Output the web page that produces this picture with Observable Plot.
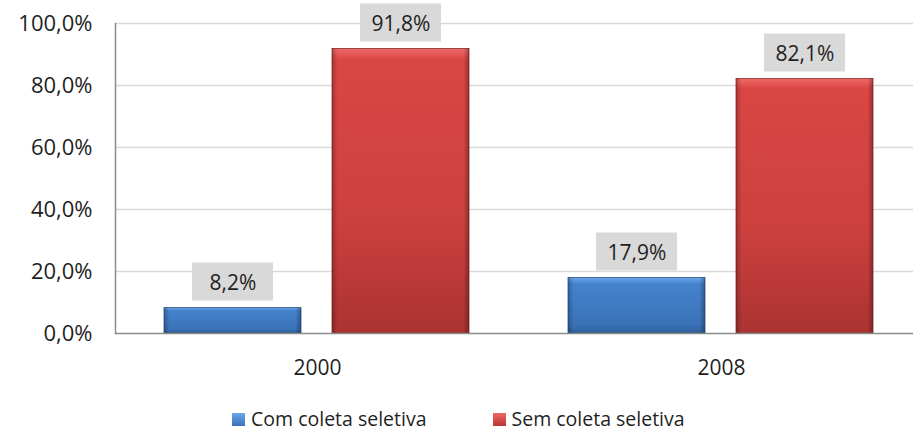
<!DOCTYPE html>
<html><head><meta charset="utf-8">
<script src="https://cdn.jsdelivr.net/npm/d3@7"></script>
<script src="https://cdn.jsdelivr.net/npm/@observablehq/plot@0.6"></script>
<style>
html,body{margin:0;padding:0;background:#fff;}
#wrap{width:913px;height:434px;overflow:hidden;position:relative;font-family:"Open Sans",sans-serif;}
#legend{position:absolute;top:408px;left:232px;display:flex;align-items:center;font-size:19.5px;line-height:22px;height:22px;color:#1f1f1f;}
.sw{width:13px;height:13px;display:inline-block;margin-right:6px;}
</style>
</head><body>
<svg width="0" height="0" style="position:absolute">
<defs>
<linearGradient id="gBlue" x1="0" y1="0" x2="0" y2="1">
<stop offset="0" stop-color="#6aa6ea"/><stop offset="0.12" stop-color="#4482cc"/><stop offset="0.85" stop-color="#3a72b8"/><stop offset="1" stop-color="#2f5f98"/>
</linearGradient>
<linearGradient id="gRed" x1="0" y1="0" x2="0" y2="1">
<stop offset="0" stop-color="#ee6a68"/><stop offset="0.04" stop-color="#da4644"/><stop offset="0.6" stop-color="#cc403e"/><stop offset="1" stop-color="#aa3331"/>
</linearGradient>
<linearGradient id="gEdge" x1="0" y1="0" x2="1" y2="0">
<stop offset="0" stop-color="#000" stop-opacity="0.25"/><stop offset="0.04" stop-color="#000" stop-opacity="0"/><stop offset="0.96" stop-color="#000" stop-opacity="0"/><stop offset="1" stop-color="#000" stop-opacity="0.3"/>
</linearGradient>
</defs></svg>
<div id="wrap"><div id="chart"></div>
<div id="legend"><span class="sw" style="background:linear-gradient(#6aa6ea,#3a72b8)"></span><span>Com coleta seletiva</span><span style="width:66px"></span><span class="sw" style="background:linear-gradient(#ee6a68,#b83533)"></span><span>Sem coleta seletiva</span></div>
</div>
<script>
const years = ["2000", "2008"];
const series = ["Com coleta seletiva", "Sem coleta seletiva"];
const comValues = [8.2, 17.9];
const semValues = [91.8, 82.1];
const yTicks = [0, 20, 40, 60, 80, 100];

const data = [];
years.forEach((yr, i) => {
  data.push({year: yr, series: series[0], value: comValues[i]});
  data.push({year: yr, series: series[1], value: semValues[i]});
});
const fmt = v => v.toFixed(1).replace(".", ",") + "%";
const fillFor = d => d.series === series[0] ? "url(#gBlue)" : "url(#gRed)";

const chart = Plot.plot({
  width: 913,
  height: 392,
  marginLeft: 114,
  marginRight: -10,
  marginTop: 23,
  marginBottom: 59,
  style: {fontFamily: "Open Sans, sans-serif", fontSize: "22px", color: "#1f1f1f", overflow: "visible"},
  fx: {domain: years, padding: 0, label: null, axis: null},
  x: {domain: series, paddingInner: 0.183, paddingOuter: 0.29, axis: null},
  y: {domain: [0, 100], axis: null},
  marks: [
    Plot.ruleY(yTicks.filter(t => t > 0), {stroke: "#d9d9d9", strokeWidth: 1.5}),
    Plot.axisFx({anchor: "bottom", tickSize: 0, tickPadding: 27, fontSize: 21, label: null}),
    Plot.axisY(yTicks, {tickSize: 0, tickPadding: 23, tickFormat: fmt, fontSize: 22, anchor: "left", label: null}),
    Plot.frame({anchor: "left", fx: () => years[0], stroke: "#8c8c8c", strokeWidth: 1.5}),
    Plot.barY(data, {fx: "year", x: "series", y: "value", fill: d => fillFor(d), stroke: d => d.series === series[0] ? "#2b5585" : "#8a2a28", strokeWidth: 0.8}),
    Plot.barY(data, {fx: "year", x: "series", y: "value", fill: "url(#gEdge)"}),
    Plot.ruleY([0], {stroke: "#8c8c8c", strokeWidth: 1.5}),
    Plot.barY(data, {fx: "year", x: "series", y1: "value", y2: "value", insetTop: -45, insetBottom: 7, insetLeft: 28, insetRight: 28, fill: "#d9d9d9"}),
    Plot.text(data, {fx: "year", x: "series", y: "value", text: d => fmt(d.value), dy: -25, fontSize: 21, fill: "#1f1f1f"})
  ]
});
document.getElementById("chart").appendChild(chart);
</script>
</body></html>
